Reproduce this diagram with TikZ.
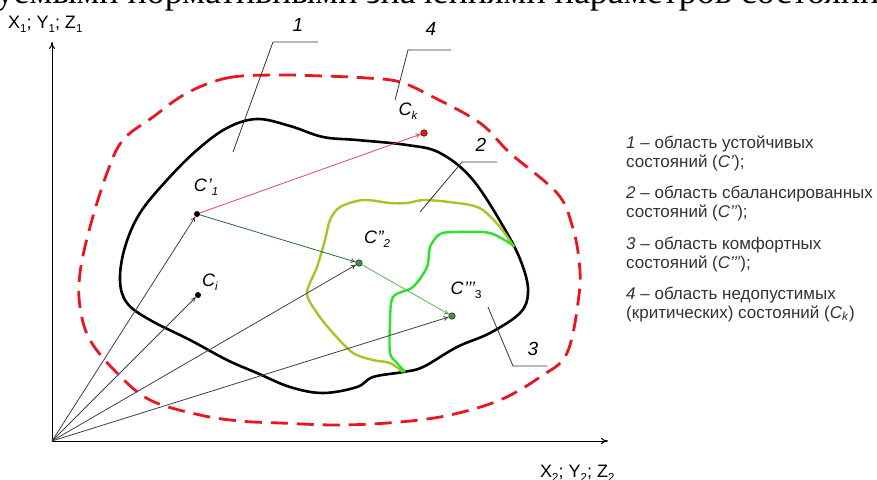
\documentclass[tikz,border=0pt]{standalone}
\usepackage{fontspec}
\setmainfont{Liberation Sans}
\newfontfamily\serifru{Liberation Serif}
\usetikzlibrary{arrows.meta}
\definecolor{dashred}{RGB}{232,22,32}
\definecolor{ygreen}{RGB}{165,198,40}
\definecolor{bgreen}{RGB}{40,228,40}
\definecolor{dkgreen}{RGB}{40,105,45}
\definecolor{ltgreen}{RGB}{90,175,90}
\definecolor{arrred}{RGB}{232,70,90}
\definecolor{legtext}{RGB}{50,50,50}
\tikzset{
  tip/.style={-{To[length=5pt,width=5pt]}},
  vec/.style={tip, draw=black!75, line width=0.8pt},
  axisline/.style={-{To[length=7pt,width=6pt]}, draw=black, line width=1pt},
  leader/.style={draw=black!80, line width=0.8pt},
  region/.style={line width=2.6pt, line join=round},
  dotk/.style={circle, inner sep=0pt, minimum size=6pt, fill=black},
  dotg/.style={circle, inner sep=0pt, minimum size=6.5pt, fill=ltgreen!80!black, draw=black!80, line width=0.6pt},
  dotr/.style={circle, inner sep=0pt, minimum size=6.5pt, fill=dashred, draw=red!40!black, line width=0.6pt},
  ptlab/.style={font=\itshape\fontsize{18}{18}\selectfont, inner sep=0pt},
  numlab/.style={font=\itshape\fontsize{19}{19}\selectfont, inner sep=0pt},
  axlab/.style={font=\fontsize{18}{18}\selectfont, inner sep=0pt},
  legend/.style={font=\fontsize{17}{17}\selectfont, text=legtext, anchor=base west, inner sep=0pt},
}
\newcommand{\sbs}[1]{\raisebox{-4pt}{\fontsize{11.5}{11.5}\selectfont #1}}
\begin{document}
\begin{tikzpicture}[x=1pt,y=-1pt]
\useasboundingbox (0,0) rectangle (877,479);
% cut-off heading
\node[anchor=base west, inner sep=0pt, font=\serifru\fontsize{36}{36}\selectfont] (head) at (-4,4) {уемыми нормативными значениями параметров состояни};
% axes
\coordinate (O) at (52,441);
\coordinate (ytop) at (52,42);
\coordinate (xend) at (608,441);
\draw[axisline] (O) -- (ytop);
\draw[axisline] (O) -- (xend);
\node[axlab, anchor=base west] (ylab) at (8,28) {X\sbs{1}; Y\sbs{1}; Z\sbs{1}};
\node[axlab, anchor=base west] (xlab) at (540,477) {X\sbs{2}; Y\sbs{2}; Z\sbs{2}};
% outer red dashed region 4
\draw[region, dashred, line width=2.8pt, dash pattern=on 17pt off 9pt]
  plot[smooth cycle, tension=0.6] coordinates {
  (187,93) (227,78) (273,75) (323,76) (367,78) (400,82) (433,97) (480,123)
  (510,153) (557,193) (572,225) (579,260) (579,295) (567,353) (540,377)
  (500,400) (450,415) (400,422) (340,425) (280,423) (240,421) (200,415)
  (150,400) (117,373) (90,340) (80,307) (80,273) (90,227) (107,173) (123,140) (153,117)};
% region 1 black
\draw[region, black]
  plot[smooth cycle, tension=0.6] coordinates {
  (257,119) (290,126) (323,137) (357,140) (407,145) (440,153) (473,180)
  (507,233) (523,267) (528,293) (520,313) (490,333) (457,347) (423,367)
  (403,372) (373,377) (357,387) (323,393) (290,387) (257,373) (227,360)
  (190,340) (150,320) (127,303) (120,280) (125,247) (140,213) (167,180)
  (197,150) (227,128)};
% region 2 yellow-green
\draw[ygreen, line width=2.4pt, line join=round]
  plot[smooth, tension=0.5] coordinates {
  (514,247) (500,227) (483,210) (470,205) (457,203) (440,201) (423,200) (407,203)
  (390,203) (363,200) (340,207) (330,220) (325,240) (317,267) (307,293)
  (317,313) (333,333) (353,353) (373,360) (390,363) (403,372)};
% region 3 bright green
\draw[bgreen, line width=2.4pt, line join=round]
  plot[smooth, tension=0.5] coordinates {
  (514,246) (490,233) (457,232) (440,234) (430,247) (427,267) (413,287)
  (393,297) (390,323) (390,353) (397,363) (405,372)};
% points
\node[dotk] (c1) at (197,214) {};
\node[dotk] (ci) at (198,295) {};
\node[dotg] (c2) at (359,263) {};
\node[dotg] (c3) at (452,316) {};
\node[dotr] (ck) at (424,133) {};
% vectors
\draw[vec] (O) -- (c1);
\draw[vec] (O) -- (ci);
\draw[vec] (O) -- (c2);
\draw[vec] (O) -- (c3);
\draw[tip, draw=arrred, line width=0.8pt] (c1) -- (ck);
\draw[tip, draw=dkgreen, line width=0.8pt] (c1) -- (c2);
\draw[tip, draw=ltgreen, line width=0.8pt] (c2) -- (c3);
% point labels
\node[ptlab] (lc1) at (206,187) {C\kern1pt’\sbs{1}};
\node[ptlab] (lci) at (210,282) {C\sbs{i}};
\node[ptlab] (lc2) at (377,239) {C\kern0.5pt”\sbs{2}};
\node[ptlab] (lc3) at (466,290) {C\kern0.5pt’\kern-0.5pt’\kern-0.5pt’\sbs{\upshape 3}};
\node[ptlab] (lck) at (408,111) {C\sbs{k}};
% leaders and numbers
\coordinate (a1) at (273,42); \coordinate (b1) at (318,42); \coordinate (e1) at (233,152);
\draw[leader] (e1) -- (a1) -- (b1);
\node[numlab] (n1) at (298,25) {1};
\coordinate (a4) at (408,50); \coordinate (b4) at (451,50); \coordinate (e4) at (395,100);
\draw[leader] (e4) -- (a4) -- (b4);
\node[numlab] (n4) at (431,29) {4};
\coordinate (a2) at (462,162); \coordinate (b2) at (497,162); \coordinate (e2) at (420,212);
\draw[leader] (e2) -- (a2) -- (b2);
\node[numlab] (n2) at (481,145) {2};
\coordinate (a3) at (513,366); \coordinate (b3) at (547,366); \coordinate (e3) at (488,307);
\draw[leader] (e3) -- (a3) -- (b3);
\node[numlab] (n3) at (533,349) {3};
% legend
\node[legend] (l1a) at (626,148) {\textit{1} – область устойчивых};
\node[legend] (l1b) at (626,167) {состояний (\textit{C’});};
\node[legend] (l2a) at (626,198) {\textit{2} – область сбалансированных};
\node[legend] (l2b) at (626,217) {состояний (\textit{C’’});};
\node[legend] (l3a) at (626,249) {\textit{3} – область комфортных};
\node[legend] (l3b) at (626,268) {состояний (\textit{C’’’});};
\node[legend] (l4a) at (626,299) {\textit{4} – область недопустимых};
\node[legend] (l4b) at (626,318) {(критических) состояний (\textit{C}\textsubscript{\textit{k}})};
\end{tikzpicture}
\end{document}
